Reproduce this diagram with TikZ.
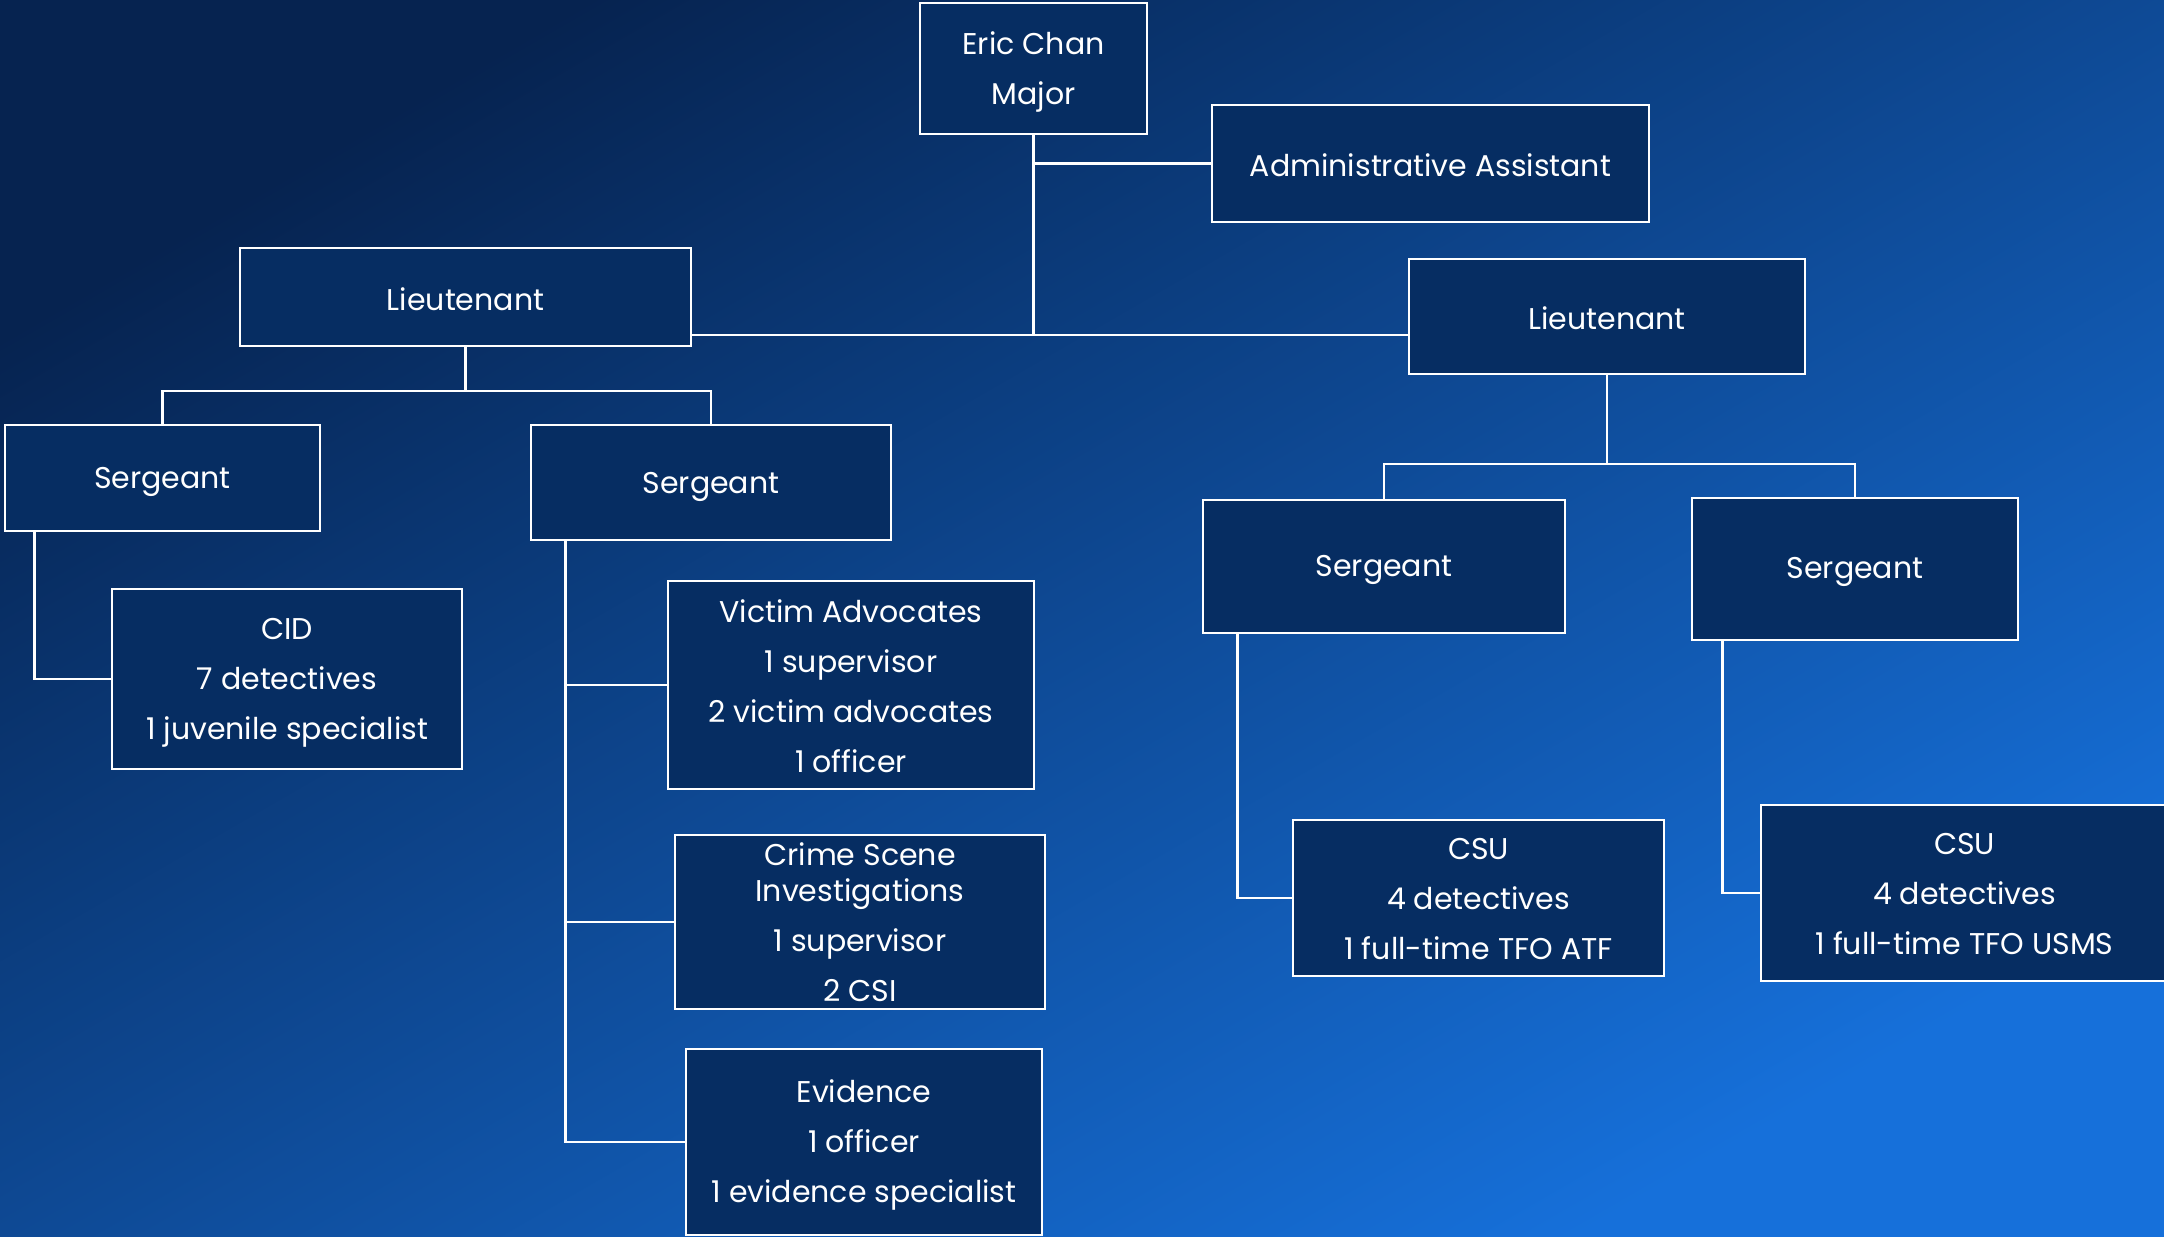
\documentclass[tikz,border=0pt]{standalone}
\usepackage{fontspec}
\setmainfont{Poppins}
\usetikzlibrary{calc}
\definecolor{bgTL}{RGB}{6,35,80}
\definecolor{bgMid}{RGB}{10,64,135}
\definecolor{bgBR}{RGB}{22,112,218}
\definecolor{boxfill}{RGB}{6,45,98}
\tikzset{
  orgbox/.style={draw=white, line width=1.4pt, fill=boxfill, inner sep=0pt},
  boxtext/.style={text=white, align=center, font=\fontsize{15}{25}\selectfont},
  link/.style={draw=white, line width=1.4pt}
}
\begin{document}
\begin{tikzpicture}[x=0.5pt,y=-0.5pt]
\useasboundingbox (0,0) rectangle (2164,1237);
\clip (0,0) rectangle (2164,1237);
\shade[top color=bgTL, middle color=bgMid, bottom color=bgBR, shading angle=30] (0,0) rectangle (2164,1237);

\node[orgbox, minimum width=113.5pt, minimum height=65.5pt,
  label={[boxtext, yshift=-1.5pt]center:Eric Chan\\Major}] (major) at (1033.5,68.5) {};
\node[orgbox, minimum width=218.5pt, minimum height=58.5pt,
  label={[boxtext, yshift=-1pt]center:Administrative Assistant}] (admin) at (1430.5,163.5) {};
\node[orgbox, minimum width=225.5pt, minimum height=49pt,
  label={[boxtext, yshift=-1pt]center:Lieutenant}] (ltL) at (465.5,297) {};
\node[orgbox, minimum width=198pt, minimum height=57.5pt,
  label={[boxtext, yshift=-1pt]center:Lieutenant}] (ltR) at (1607,316.5) {};
\node[orgbox, minimum width=157.5pt, minimum height=53pt,
  label={[boxtext, yshift=-2pt]center:Sergeant}] (sg1) at (162.5,478) {};
\node[orgbox, minimum width=180pt, minimum height=57.5pt,
  label={[boxtext, yshift=-2pt]center:Sergeant}] (sg2) at (711,482.5) {};
\node[orgbox, minimum width=175pt, minimum height=90pt,
  label={[boxtext, yshift=-2pt]center:CID\\7 detectives\\1 juvenile specialist}] (cid) at (287,679) {};
\node[orgbox, minimum width=183pt, minimum height=104pt,
  label={[boxtext, yshift=-0.5pt]center:Victim Advocates\\1 supervisor\\2 victim advocates\\1 officer}] (vic) at (851,685) {};
\node[orgbox, minimum width=185pt, minimum height=87pt,
  label={[boxtext, yshift=0pt]center:Crime Scene\\[-7pt]Investigations\\1 supervisor\\2 CSI}] (csi) at (860,922) {};
\node[orgbox, minimum width=178pt, minimum height=93pt,
  label={[boxtext, yshift=-1.5pt]center:Evidence\\1 officer\\1 evidence specialist}] (evd) at (864,1142) {};
\node[orgbox, minimum width=181pt, minimum height=66.5pt,
  label={[boxtext, yshift=-1.5pt]center:Sergeant}] (sg3) at (1384,566.5) {};
\node[orgbox, minimum width=163pt, minimum height=71pt,
  label={[boxtext, yshift=-1.5pt]center:Sergeant}] (sg4) at (1855,569) {};
\node[orgbox, minimum width=185.5pt, minimum height=78pt,
  label={[boxtext, yshift=-0.5pt]center:CSU\\4 detectives\\1 full-time TFO ATF}] (csu1) at (1478.5,898) {};
\node[orgbox, minimum width=203.5pt, minimum height=88pt,
  label={[boxtext, yshift=-0.5pt]center:CSU\\4 detectives\\1 full-time TFO USMS}] (csu2) at (1964.5,893) {};

\coordinate (hj) at (1034,335);
\coordinate (jL) at (466,391);
\coordinate (jR) at (1608,464);

% major
\draw[link] (major.south) -- (major.south |- hj);
\draw[link] (major.south |- admin.west) -- (admin.west);
\draw[link] (ltL.east |- hj) -- (ltR.west |- hj);

% left lieutenant
\draw[link] (ltL.south) -- (ltL.south |- jL);
\draw[link] (sg1.north) -- (sg1.north |- jL) -- (sg2.north |- jL) -- (sg2.north);
\draw[link] ($(sg1.south west)+(31,0)$) |- (cid.west);
\coordinate (v2) at ($(sg2.south west)+(36,0)$);
\draw[link] (v2) |- (evd.west);
\draw[link] (v2 |- vic.west) -- (vic.west);
\draw[link] (v2 |- csi.west) -- (csi.west);

% right lieutenant
\draw[link] (ltR.south) -- (ltR.south |- jR);
\draw[link] (sg3.north) -- (sg3.north |- jR) -- (sg4.north |- jR) -- (sg4.north);
\draw[link] ($(sg3.south west)+(36,0)$) |- (csu1.west);
\draw[link] ($(sg4.south west)+(32,0)$) |- (csu2.west);
\end{tikzpicture}
\end{document}
